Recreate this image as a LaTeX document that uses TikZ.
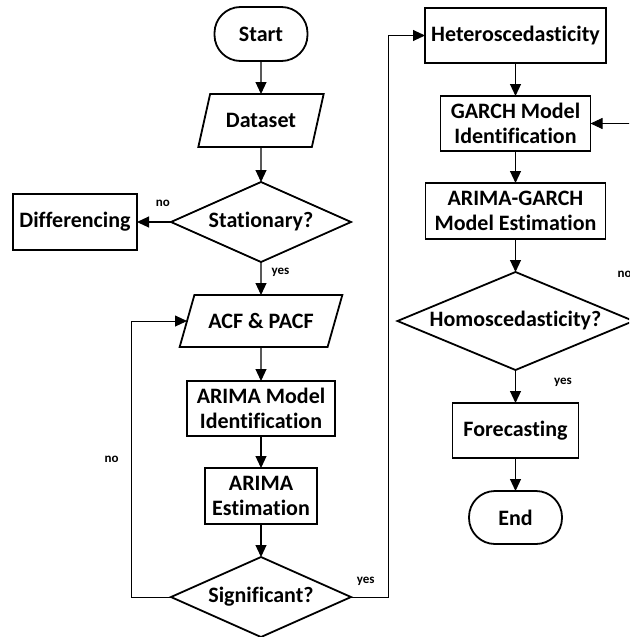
\documentclass[tikz,border=0pt]{standalone}
\usepackage{fontspec}
\setmainfont{Carlito}[Ligatures=NoCommon]
\usetikzlibrary{arrows.meta,positioning,shapes.geometric}

\begin{document}
\begin{tikzpicture}[x=1pt,y=1pt,node distance=33pt,
  box/.style={draw,line width=1.8pt,outer sep=0pt,align=center,minimum height=55pt,inner sep=2pt,font=\fontsize{22}{25}\selectfont\bfseries},
  term/.style={box,rounded corners=26pt,minimum width=93pt,minimum height=54pt},
  io/.style={box,trapezium,trapezium stretches=true,minimum height=53pt},
  dec/.style={box,diamond,inner sep=0pt},
  lbl/.style={inner sep=1pt,font=\fontsize{13}{15}\selectfont\bfseries},
  flow/.style={-{Triangle[length=12pt,width=11pt]},line width=1.1pt},
  backflow/.style={flow,line width=0.9pt}]
\useasboundingbox (0,0) rectangle (629,-637);
\clip (0,0) rectangle (629,-637);
% left column
\node[term](start) at (261,-34){Start};
\node[io,trapezium left angle=65,trapezium right angle=115,minimum width=126pt,below=of start](data){Dataset};
\node[dec,aspect=2.25,minimum width=180pt,minimum height=80pt,below=35pt of data](stat){Stationary?};
\node[box,minimum width=124pt,minimum height=56pt,left=34pt of stat](diff){Differencing};
\node[io,trapezium left angle=58,trapezium right angle=122,minimum width=163pt,minimum height=52pt,below=of stat](acf){ACF \& PACF};
\node[box,minimum width=148pt,below=34pt of acf](arid){ARIMA Model\\Identification};
\node[box,minimum width=112pt,minimum height=56pt,below=32pt of arid](arest){ARIMA\\Estimation};
\node[dec,aspect=2.25,minimum width=180pt,minimum height=80pt,below=of arest](sig){Significant?};
% right column
\node[box,minimum width=181pt](het) at (515.5,-35.5){Heteroscedasticity};
\node[box,minimum width=150pt,below=of het](gid){GARCH Model\\Identification};
\node[box,minimum width=180pt,minimum height=56pt,below=32pt of gid](gest){ARIMA-GARCH\\Model Estimation};
\node[dec,aspect=2.4,minimum width=236pt,minimum height=98pt,below=of gest](homo){Homoscedasticity?};
\node[box,minimum width=126pt,below=of homo](fc){Forecasting};
\node[term,minimum height=53pt,below=of fc](end){End};
% connectors
\draw[flow](start)--(data);
\draw[flow](data)--(stat);
\draw[flow](stat)--node[lbl,pos=0.3,right=9pt](statyes){yes}(acf);
\draw[flow](stat)--node[lbl,pos=0.24,above=14pt](statno){no}(diff);
\draw[flow](acf)--(arid);
\draw[flow](arid)--(arest);
\draw[flow](arest)--(sig);
\draw[backflow](sig.west)--++(-40,0)|-node[lbl,pos=0.25,left=11pt](signo){no}(acf);
\draw[backflow](sig.east)--node[lbl,pos=0.4,above=10pt](sigyes){yes}++(37,0)|-(het);
\draw[flow](het)--(gid);
\draw[flow](gid)--(gest);
\draw[flow](gest)--(homo);
\draw[flow](homo)--node[lbl,pos=0.36,right=37pt](homoyes){yes}(fc);
\draw[flow](fc)--(end);
\draw[backflow](homo.east)--++(20,0)|-(gid);
\node[lbl](homono) at ([xshift=-9pt,yshift=47pt]homo.east){no};
\end{tikzpicture}
\end{document}
